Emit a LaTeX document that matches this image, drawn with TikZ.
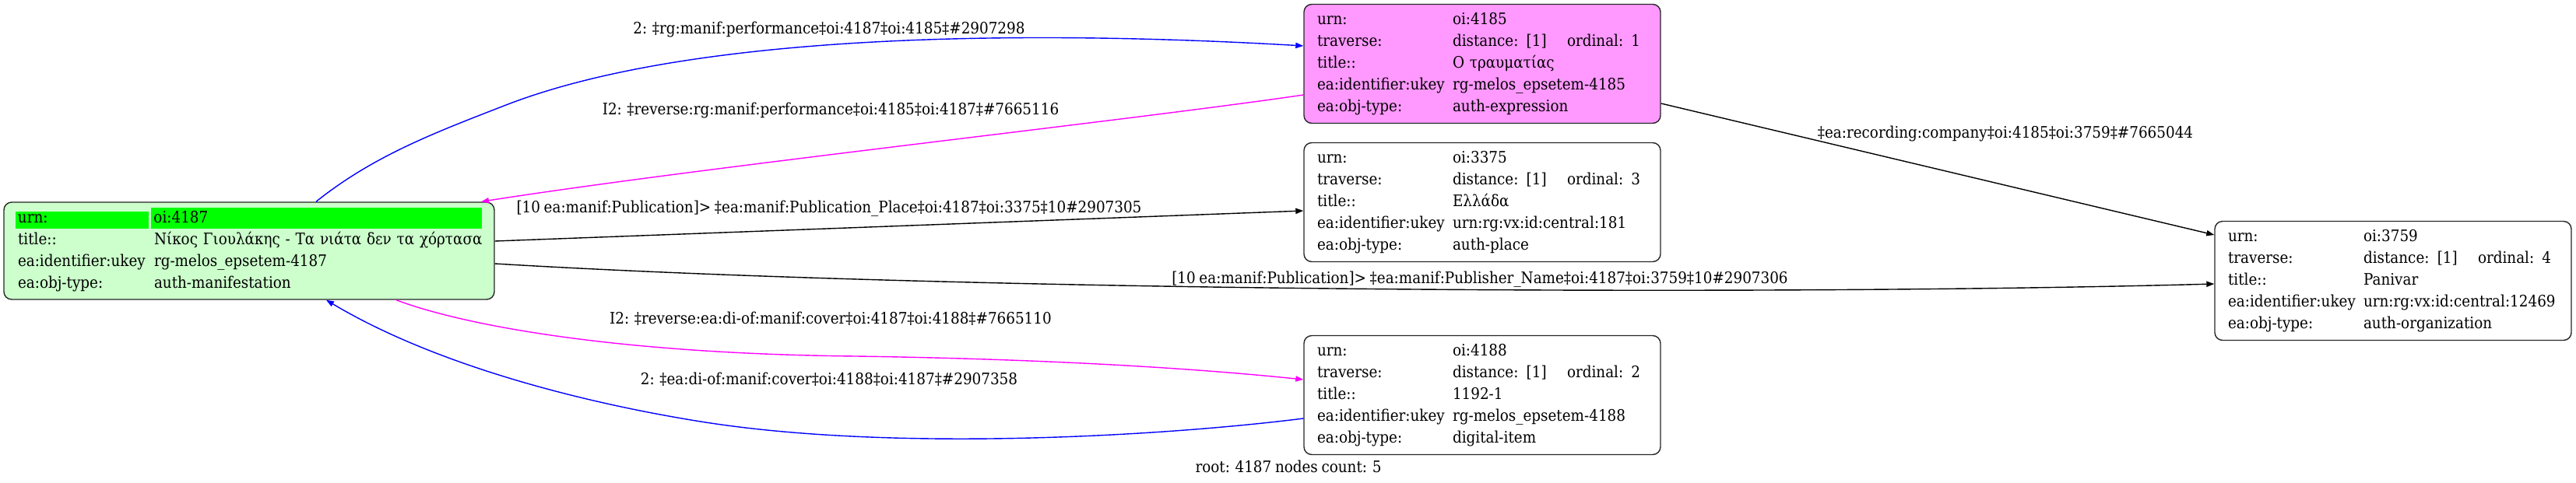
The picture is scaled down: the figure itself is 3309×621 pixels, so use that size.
\documentclass[tikz,border=0pt]{standalone}
\usepackage{fontspec}
\setmainfont{DejaVu Serif}[FakeStretch=0.9, WordSpace=0.8]
\usetikzlibrary{arrows.meta}

\definecolor{pinkfill}{HTML}{FF99FF}
\definecolor{greenfill}{HTML}{CCFFCC}
\definecolor{hlgreen}{HTML}{00FF00}
\definecolor{linkblue}{HTML}{0000FF}
\definecolor{linkmag}{HTML}{FF00FF}

\newcommand{\trav}[1]{\makebox[73.5pt][l]{distance: [1]}ordinal: #1}
\newcommand{\hl}[2]{\colorbox{hlgreen}{\makebox[#1][l]{\rule[-2.25pt]{0pt}{6.75pt}#2}}}

\tikzset{
  rec/.style={draw=black!85, line width=0.7pt, rounded corners=5pt,
    inner xsep=8.5pt, inner ysep=0pt, text width=212pt, align=left,
    minimum width=229pt, minimum height=76.5pt,
    font=\fontsize{10.2}{14}\selectfont},
  elab/.style={inner sep=0pt, font=\fontsize{10.2}{14}\selectfont},
  link/.style={line width=0.7pt, ->}
}

\begin{document}
\begin{tikzpicture}[x=0.5pt, y=-0.5pt, >={Triangle[length=5pt,width=3.6pt]}]
  \useasboundingbox (0,0) rectangle (3309,621);
  \setlength{\fboxsep}{1.75pt}

  % root record
  \node[rec, fill=greenfill, text width=299pt, inner xsep=8pt,
        minimum width=315pt, minimum height=62.5pt] (n4187) at (320,322.5)
    {\begin{tabular}{@{\hspace{1pt}}p{87.5pt}@{}l@{}}
       \hspace*{-1.75pt}\hl{82.25pt}{urn:} & \hspace*{-2pt}\hl{209pt}{oi:4187}\\
       title:: & Νίκος Γιουλάκης - Τα νιάτα δεν τα χόρτασα\\
       ea:identifier:ukey & rg-melos\_epsetem-4187\\
       ea:obj-type: & auth-manifestation
     \end{tabular}};

  % neighbours
  \node[rec, fill=pinkfill] (n4185) at (1904,82)
    {\begin{tabular}{@{}p{87pt}@{}l@{}}
       urn: & oi:4185\\
       traverse: & \trav{1}\\
       title:: & Ο τραυματίας\\
       ea:identifier:ukey & rg-melos\_epsetem-4185\\
       ea:obj-type: & auth-expression
     \end{tabular}};
  \node[rec] (n3375) at (1904,260)
    {\begin{tabular}{@{}p{87pt}@{}l@{}}
       urn: & oi:3375\\
       traverse: & \trav{3}\\
       title:: & Ελλάδα\\
       ea:identifier:ukey & urn:rg:vx:id:central:181\\
       ea:obj-type: & auth-place
     \end{tabular}};
  \node[rec] (n4188) at (1904,508)
    {\begin{tabular}{@{}p{87pt}@{}l@{}}
       urn: & oi:4188\\
       traverse: & \trav{2}\\
       title:: & 1192-1\\
       ea:identifier:ukey & rg-melos\_epsetem-4188\\
       ea:obj-type: & digital-item
     \end{tabular}};
  \node[rec] (n3759) at (3074,361)
    {\begin{tabular}{@{}p{87pt}@{}l@{}}
       urn: & oi:3759\\
       traverse: & \trav{4}\\
       title:: & Panivar\\
       ea:identifier:ukey & urn:rg:vx:id:central:12469\\
       ea:obj-type: & auth-organization
     \end{tabular}};

  % links
  \draw[link, linkblue] ([xshift=43pt]n4187.north) .. controls (480,200) and (560,170) .. (650,135)
    .. controls (900,38) and (1350,40) .. ([yshift=11.5pt]n4185.west);
  \draw[link, linkmag] ([yshift=-20pt]n4185.west) .. controls (1450,155) and (900,215) .. ([xshift=149pt]n4187.north);
  \draw[link] ([yshift=6.25pt]n4187.east) -- ([yshift=-5.5pt]n3375.west);
  \draw[link] ([yshift=-8.25pt]n4187.east) .. controls (1250,376) and (2300,380) .. ([yshift=-2pt]n3759.west);
  \draw[link] ([yshift=-25.5pt]n4185.east) -- ([yshift=29.5pt]n3759.west);
  \draw[link, linkmag] ([xshift=94.5pt]n4187.south) .. controls (600,420) and (800,455) .. (1100,458)
    .. controls (1300,461) and (1500,470) .. ([yshift=10pt]n4188.west);
  \draw[link, linkblue] ([yshift=-15pt]n4188.west) .. controls (1500,560) and (1150,582) .. (900,542)
    .. controls (750,518) and (560,470) .. ([xshift=49.5pt]n4187.south);

  % link labels
  \node[elab] (l1) at (1065,38) {2: ‡rg:manif:performance‡oi:4187‡oi:4185‡\#2907298};
  \node[elab] (l2) at (1067,142) {I2: ‡reverse:rg:manif:performance‡oi:4185‡oi:4187‡\#7665116};
  \node[elab] (l3) at (1065,268) {[10 ea:manif:Publication]> ‡ea:manif:Publication\_Place‡oi:4187‡oi:3375‡10\#2907305};
  \node[elab] (l4) at (1901,359) {[10 ea:manif:Publication]> ‡ea:manif:Publisher\_Name‡oi:4187‡oi:3759‡10\#2907306};
  \node[elab] (l5) at (2576,172) {‡ea:recording:company‡oi:4185‡oi:3759‡\#7665044};
  \node[elab] (l6) at (1067,410) {I2: ‡reverse:ea:di-of:manif:cover‡oi:4187‡oi:4188‡\#7665110};
  \node[elab] (l7) at (1065,488) {2: ‡ea:di-of:manif:cover‡oi:4188‡oi:4187‡\#2907358};

  \node[elab] (root) at (1655,600) {root: 4187 nodes count: 5};
\end{tikzpicture}
\end{document}
